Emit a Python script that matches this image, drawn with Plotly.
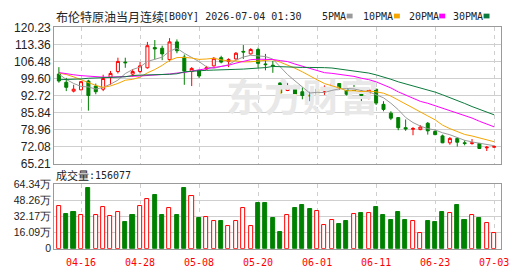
import plotly.graph_objects as go
import pandas as pd

W, H = 530, 276

dates = ["04-13","04-14","04-15","04-16","04-17","04-20","04-21","04-22","04-23","04-24",
         "04-27","04-28","04-29","04-30","05-01","05-04","05-05","05-06","05-07","05-08",
         "05-11","05-12","05-13","05-14","05-15","05-18","05-19","05-20","05-21","05-22",
         "05-25","05-26","05-27","05-28","05-29","06-01","06-02","06-03","06-04","06-05",
         "06-08","06-09","06-10","06-11","06-12","06-15","06-16","06-17","06-18","06-19",
         "06-22","06-23","06-24","06-25","06-26","06-29","06-30","07-01","07-02","07-03"]

open_ = [101.38, 98.07, 94.50, 95.01, 98.58, 96.54, 95.27, 100.11, 102.40, 106.22,
         101.38, 102.40, 103.93, 112.08, 111.82, 107.24, 114.37, 108.26, 102.40, 102.91,
         103.42, 104.69, 108.00, 106.48, 107.49, 110.55, 109.53, 111.31, 105.46, 104.95,
         97.81, 94.76, 96.80, 94.25, 92.85, 93.23, 94.50, 97.05, 97.56, 95.52,
         95.52, 94.50, 93.48, 95.27, 89.15, 85.59, 83.81, 79.73, 79.10, 78.96,
         81.51, 78.20, 76.42, 73.62, 75.40, 73.62, 73.36, 73.36, 71.58, 71.83]
high = [104.18, 99.85, 97.05, 98.58, 99.09, 97.56, 101.13, 102.65, 108.00, 108.00,
        103.42, 106.22, 114.37, 115.13, 112.84, 115.90, 115.39, 109.28, 104.18, 103.04,
        104.69, 108.26, 108.77, 107.75, 110.30, 113.10, 111.82, 112.08, 109.53, 106.73,
        97.94, 97.81, 96.93, 96.03, 94.25, 97.81, 96.80, 99.34, 97.69, 96.03,
        98.32, 95.52, 95.52, 95.40, 90.43, 86.35, 83.93, 83.04, 79.99, 80.75,
        82.02, 78.96, 76.93, 75.91, 75.91, 74.64, 75.15, 73.49, 72.34, 72.60]
low = [97.90, 94.50, 93.99, 94.88, 86.61, 93.23, 94.50, 97.05, 101.64, 103.93,
       100.36, 101.64, 103.60, 107.24, 106.99, 106.48, 109.79, 97.05, 96.54, 99.85,
       103.16, 104.44, 105.71, 104.18, 107.24, 107.49, 109.28, 103.93, 102.91, 101.89,
       93.48, 94.50, 91.96, 91.19, 90.43, 92.98, 92.98, 96.03, 95.01, 92.72,
       93.74, 89.92, 91.19, 88.90, 86.35, 82.79, 78.71, 78.46, 76.67, 78.71,
       76.93, 76.67, 73.49, 72.85, 72.09, 72.60, 72.85, 71.20, 70.30, 71.58]
close = [98.58, 96.03, 95.27, 98.32, 92.72, 94.25, 99.60, 101.64, 106.48, 105.97,
         102.40, 104.69, 112.84, 111.57, 109.53, 114.37, 110.80, 102.65, 103.67, 100.62,
         103.93, 107.75, 106.22, 107.24, 109.79, 110.30, 111.31, 105.71, 105.20, 104.69,
         93.74, 96.54, 92.98, 92.72, 92.60, 95.27, 96.03, 97.31, 95.78, 93.23,
         94.50, 92.72, 95.01, 89.66, 87.12, 83.55, 79.73, 79.22, 79.35, 79.99,
         78.46, 76.93, 73.62, 75.40, 73.87, 73.36, 73.62, 71.32, 71.83, 72.09]

volume = [429000, 347000, 366000, 334000, 602000, 334000, 419000, 325000, 363000, 262000,
          337000, 429000, 495000, 536000, 337000, 401000, 337000, 602000, 524000, 309000,
          315000, 278000, 271000, 230000, 278000, 401000, 230000, 451000, 451000, 303000,
          167000, 334000, 404000, 432000, 394000, 372000, 240000, 287000, 243000, 271000,
          344000, 356000, 353000, 413000, 337000, 281000, 366000, 281000, 278000, 155000,
          271000, 262000, 366000, 353000, 432000, 290000, 337000, 303000, 259000, 156077]

# MA values at the left edge (earlier history not shown)
ma5_head = [101.4, 99.2, 97.6, 96.4]
ma10_head = [101.8, 101.2, 100.25, 99.1, 97.95, 96.8, 96.0, 96.6, 97.6]
ma20_head = [102.0, 101.7, 101.1, 100.75, 100.5, 100.35, 100.15, 100.15, 100.35, 100.5,
             100.5, 100.6, 100.75, 100.9, 101.1, 101.4, 101.8, 102.0, 102.6]
ma30_head = [99.1, 99.1, 99.2, 99.4, 99.7, 99.75, 99.9, 100.1, 100.15, 100.3,
             100.8, 100.95, 101.0, 101.1, 101.2, 101.3, 101.5, 102.3, 102.5, 102.8,
             102.9, 103.0, 103.0, 103.1, 103.3, 103.4, 103.5, 103.6, 104.0]

price_ticks = [65.21, 72.08, 78.96, 85.84, 92.72, 99.60, 106.48, 113.36, 120.23]
vol_ticks = [0, 160850, 321700, 482550, 643400]
vol_tick_text = ["0", "16.09万", "32.17万", "48.26万", "64.34万"]
date_ticks = ["04-16", "04-28", "05-08", "05-20", "06-01", "06-11", "06-23", "07-03"]

title_cn = "布伦特原油当月连续"
title_code = "[B00Y] 2026-07-04 01:30"
ma_names = ["5PMA", "10PMA", "20PMA", "30PMA"]
ma_colors = ["#9a9a9a", "#f5a500", "#ff00ff", "#0b7a3c"]

RED = "#ff0000"
GREEN = "#008000"


def ma(n, head):
    s = pd.Series(close).rolling(n).mean().tolist()
    return [head[i] if i < len(head) else s[i] for i in range(len(close))]


mas = [ma(5, ma5_head), ma(10, ma10_head), ma(20, ma20_head), ma(30, ma30_head)]

fig = go.Figure()

# watermark (decorative)
fig.add_trace(go.Scatter(x=["05-28"], y=[90.4], mode="text", text=["东方财富"],
                         textfont=dict(family="Noto Sans CJK SC", size=38, color="#e8e8e8", weight="bold"),
                         hoverinfo="skip", xaxis="x", yaxis="y"))

fig.add_trace(go.Candlestick(
    x=dates, open=open_, high=high, low=low, close=close,
    increasing=dict(line=dict(color=RED, width=1), fillcolor="white"),
    decreasing=dict(line=dict(color=GREEN, width=1), fillcolor=GREEN),
    whiskerwidth=0, xaxis="x", yaxis="y"))

for vals, col in zip(mas, ma_colors):
    fig.add_trace(go.Scatter(x=dates, y=vals, mode="lines", line=dict(color=col, width=1),
                             xaxis="x", yaxis="y", hoverinfo="skip"))

up = [i == 0 or close[i] >= close[i - 1] for i in range(len(close))]
fig.add_trace(go.Bar(
    x=dates, y=volume, width=0.55,
    marker=dict(color=["white" if u else GREEN for u in up],
                line=dict(color=[RED if u else GREEN for u in up], width=1)),
    xaxis="x2", yaxis="y2"))

xd = [55 / W, 509 / W]
FRAME = "#9a9a9a"
GRID = "#cfcfcf"
axis_common = dict(showline=True, mirror=True, linecolor=FRAME, linewidth=1,
                   zeroline=False, ticks="", gridcolor=GRID, gridwidth=1)
xcat = dict(type="category", categoryorder="array", categoryarray=dates,
            range=[-0.64, 59.97], tickvals=date_ticks, showgrid=True, griddash="4px,4px")

fig.update_layout(
    width=W, height=H, margin=dict(l=0, r=0, t=0, b=0),
    paper_bgcolor="white", plot_bgcolor="white", showlegend=False,
    boxgap=0.42, bargap=0,
    xaxis=dict(domain=xd, anchor="y", showticklabels=False,
               rangeslider=dict(visible=False), **xcat, **axis_common),
    yaxis=dict(domain=[1 - 165 / H, 1 - 21.5 / H], range=[65.21, 120.23], anchor="x",
               tickvals=price_ticks, ticktext=[f"{v:.2f}" for v in price_ticks],
               tickfont=dict(family="Liberation Sans", size=12, color="#222"),
               showgrid=True, **axis_common),
    xaxis2=dict(domain=xd, anchor="y2", ticktext=date_ticks,
                tickfont=dict(family="DejaVu Sans Mono", size=10, color=RED),
                ticklabelstandoff=4, **xcat, **axis_common),
    yaxis2=dict(domain=[1 - 254.7 / H, 1 - 186.5 / H], range=[0, 643400], anchor="x2",
                tickvals=vol_ticks, ticktext=vol_tick_text,
                tickfont=dict(family="Liberation Sans", size=10.5, color="#222"),
                showgrid=True, **axis_common),
)


def px(x, y):
    return x / W, 1 - y / H


ann = []
shapes = []
def text(x, y, s, family, size, color="#222"):
    ax, ay = px(x, y)
    ann.append(dict(x=ax, y=ay, xref="paper", yref="paper", text=s, showarrow=False,
                    xanchor="left", yanchor="middle", borderpad=0,
                    font=dict(family=family, size=size, color=color)))

text(56, 9.5, title_cn, "Noto Sans CJK SC", 12)
text(164, 9.5, title_code, "DejaVu Sans Mono", 10)
leg_x = [326, 368, 414, 459]
for name, col, lx in zip(ma_names, ma_colors, leg_x):
    text(lx, 9.5, name, "DejaVu Sans Mono", 10)
    sx = lx + len(name) * 6 + 2
    x0, y0 = px(sx, 12)
    x1, y1 = px(sx + 6, 7)
    shapes.append(dict(type="rect", xref="paper", yref="paper", x0=x0, y0=y0, x1=x1, y1=y1,
                       fillcolor=col, line=dict(width=0)))

text(56, 177.5, "成交量", "Noto Sans CJK SC", 11)
text(89, 177.5, ":" + str(volume[-1]), "DejaVu Sans Mono", 10)

fig.update_layout(annotations=ann, shapes=shapes)
fig.write_html("out.html")
